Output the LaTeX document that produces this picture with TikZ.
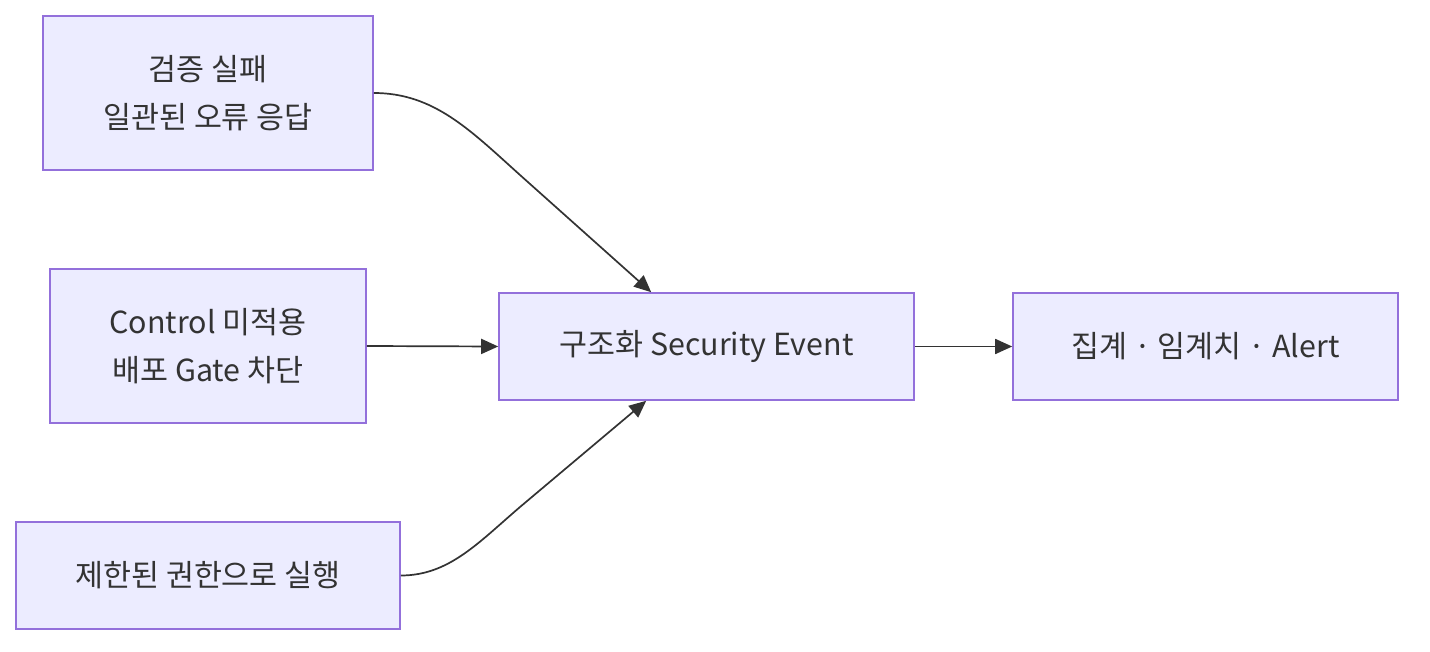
\documentclass[tikz,border=0pt]{standalone}
\usepackage{fontspec}
\setmainfont{Noto Sans CJK KR}
\usetikzlibrary{arrows.meta,calc}
\definecolor{nodefill}{HTML}{ECECFF}
\definecolor{nodeline}{HTML}{9370DB}
\definecolor{txt}{HTML}{333333}
\tikzset{
  box/.style={draw=nodeline, fill=nodefill, line width=1.6pt, text=txt, align=center, inner sep=0pt,
    font=\fontsize{30.4}{48}\selectfont},
  conn/.style={draw=txt, line width=1.7pt, -{Triangle[length=17pt,width=15pt]}},
}
\begin{document}
\begin{tikzpicture}[x=1pt,y=-1pt]
\useasboundingbox (0,0) rectangle (1430,652);
\node[box, minimum width=330pt, minimum height=154pt] (A) at (208,93) {검증 실패\\일관된 오류 응답};
\node[box, minimum width=316pt, minimum height=154pt] (B) at (208,346) {Control 미적용\\배포 Gate 차단};
\node[box, minimum width=384pt, minimum height=107pt] (C) at (208,575.5) {제한된 권한으로 실행};
\node[box, minimum width=415pt, minimum height=107pt] (D) at (706.5,346.5) {구조화 Security Event};
\node[box, minimum width=385pt, minimum height=107pt] (E) at (1205.5,346.5) {집계 · 임계치 · Alert};
\coordinate (Din) at ($(D.north west)+(153,0)$);
\coordinate (Dinb) at ($(D.south west)+(148,0)$);
\draw[conn] (A.east) .. controls +(60,0) and (470,130) .. (520,175) -- (Din);
\draw[conn] (B.east) -- (D.west);
\draw[conn] (C.east) .. controls +(48,0) and (478,543) .. (520,507) -- (Dinb);
\draw[conn] (D.east) -- (E.west);
\end{tikzpicture}
\end{document}
